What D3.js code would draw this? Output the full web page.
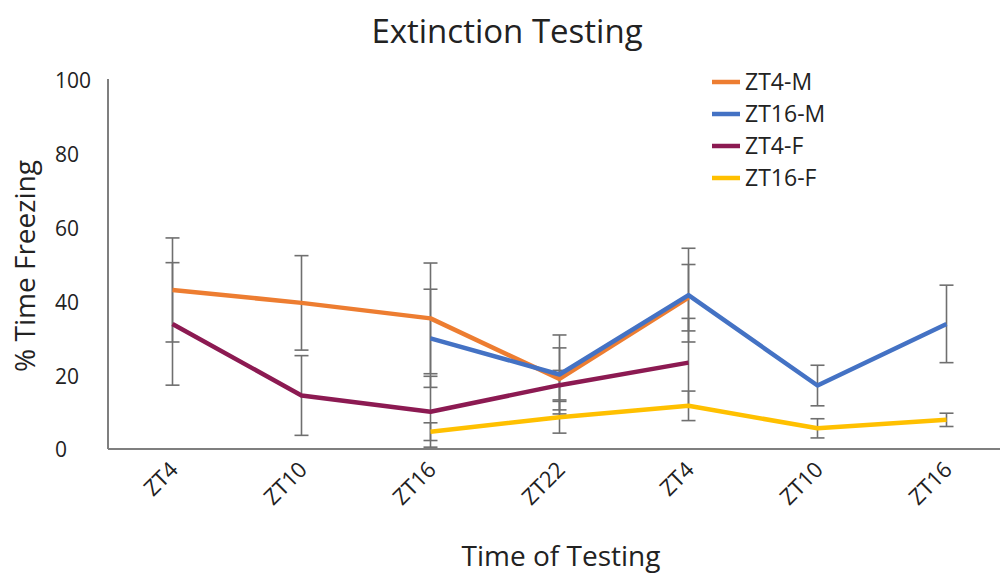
<!DOCTYPE html>
<html>
<head>
<meta charset="utf-8">
<script src="https://cdn.jsdelivr.net/npm/d3@7"></script>
<style>
  body { margin: 0; background: #fff; }
  text { font-family: "Open Sans", sans-serif; fill: #222; }
</style>
</head>
<body>
<div id="chart"></div>
<script>
// chart data
const categories = ["ZT4", "ZT10", "ZT16", "ZT22", "ZT4", "ZT10", "ZT16"];
const yTicks = [0, 20, 40, 60, 80, 100];

const seriesNames = ["ZT4-M", "ZT16-M", "ZT4-F", "ZT16-F"];
const seriesColors = ["#ED7D31", "#4472C4", "#8C1A52", "#FFC000"];

const zt4M = [43.1, 39.6, 35.4, 19.0, 41.0, null, null];
const zt4MErr = [14.1, 12.8, 15.0, 8.4, 9.0, null, null];
const zt16M = [null, null, 30.0, 20.2, 41.7, 17.2, 33.9];
const zt16MErr = [null, null, 13.3, 10.7, 12.7, 5.5, 10.5];
const zt4F = [33.9, 14.5, 10.1, 17.3, 23.4, null, null];
const zt4FErr = [16.6, 10.8, 9.6, 4.0, 12.0, null, null];
const zt16F = [null, null, 4.7, 8.6, 11.7, 5.6, 7.9];
const zt16FErr = [null, null, 2.4, 4.3, 4.0, 2.6, 1.8];

const seriesValues = [zt4M, zt16M, zt4F, zt16F];
const seriesErrors = [zt4MErr, zt16MErr, zt4FErr, zt16FErr];

const width = 1000;
const height = 575;
const margin = { top: 80, right: 0, bottom: 126, left: 108 };

const svg = d3.select("#chart")
  .append("svg")
  .attr("width", width)
  .attr("height", height);

// scales
const x = d3.scalePoint()
  .domain(d3.range(categories.length))
  .range([margin.left, 1011])
  .padding(0.5);

const y = d3.scaleLinear()
  .domain([0, 100])
  .range([height - margin.bottom, margin.top]);

// title
svg.append("text")
  .attr("x", 507)
  .attr("y", 43)
  .attr("text-anchor", "middle")
  .style("font-size", "33px")
  .text("Extinction Testing");

// axes lines
svg.append("line")
  .attr("x1", margin.left).attr("x2", margin.left)
  .attr("y1", y(100) - 1).attr("y2", y(0))
  .attr("stroke", "#7f7f7f").attr("stroke-width", 2);
svg.append("line")
  .attr("x1", margin.left).attr("x2", width)
  .attr("y1", y(0)).attr("y2", y(0))
  .attr("stroke", "#7f7f7f").attr("stroke-width", 2);

// y tick labels (left aligned like the original)
svg.append("g")
  .selectAll("text")
  .data(yTicks)
  .join("text")
  .attr("x", 55)
  .attr("y", d => y(d) + 1)
  .attr("dy", "0.35em")
  .style("font-size", "21px")
  .text(d => d);

// x tick labels, rotated
svg.append("g")
  .selectAll("text")
  .data(categories)
  .join("text")
  .attr("text-anchor", "end")
  .attr("transform", (d, i) => `translate(${x(i) + 7},${y(0) + 22}) rotate(-45)`)
  .style("font-size", "22px")
  .text(d => d);

// axis titles
svg.append("text")
  .attr("x", 561)
  .attr("y", 566)
  .attr("text-anchor", "middle")
  .style("font-size", "28px")
  .text("Time of Testing");

svg.append("text")
  .attr("transform", `translate(35,266) rotate(-90)`)
  .attr("text-anchor", "middle")
  .style("font-size", "28px")
  .text("% Time Freezing");

// error bars first, lines go on top
const errG = svg.append("g");
seriesValues.forEach((vals, s) => {
  const pts = vals.map((v, i) => ({ i: i, v: v, e: seriesErrors[s][i] }))
    .filter(d => d.v != null);
  const bars = errG.append("g")
    .selectAll("g")
    .data(pts)
    .join("g")
    .attr("stroke", "#6f6f6f")
    .attr("stroke-width", 1.6);
  bars.append("line")
    .attr("x1", d => x(d.i)).attr("x2", d => x(d.i))
    .attr("y1", d => y(d.v + d.e)).attr("y2", d => y(Math.max(0, d.v - d.e)));
  bars.append("line")
    .attr("x1", d => x(d.i) - 7).attr("x2", d => x(d.i) + 7)
    .attr("y1", d => y(d.v + d.e)).attr("y2", d => y(d.v + d.e));
  bars.append("line")
    .attr("x1", d => x(d.i) - 7).attr("x2", d => x(d.i) + 7)
    .attr("y1", d => y(Math.max(0, d.v - d.e))).attr("y2", d => y(Math.max(0, d.v - d.e)));
});

// series lines
const line = d3.line()
  .defined(d => d.v != null)
  .x(d => x(d.i))
  .y(d => y(d.v));

seriesValues.forEach((vals, s) => {
  svg.append("path")
    .datum(vals.map((v, i) => ({ i: i, v: v })))
    .attr("fill", "none")
    .attr("stroke", seriesColors[s])
    .attr("stroke-width", 4.5)
    .attr("stroke-linejoin", "round")
    .attr("d", line);
});

// legend
const legend = svg.append("g")
  .selectAll("g")
  .data(seriesNames)
  .join("g")
  .attr("transform", (d, i) => `translate(712,${82 + i * 32})`);
legend.append("line")
  .attr("x1", 0).attr("x2", 28)
  .attr("stroke", (d, i) => seriesColors[i])
  .attr("stroke-width", 4.5);
legend.append("text")
  .attr("x", 33)
  .attr("dy", "0.35em")
  .style("font-size", "23px")
  .text(d => d);
</script>
</body>
</html>
